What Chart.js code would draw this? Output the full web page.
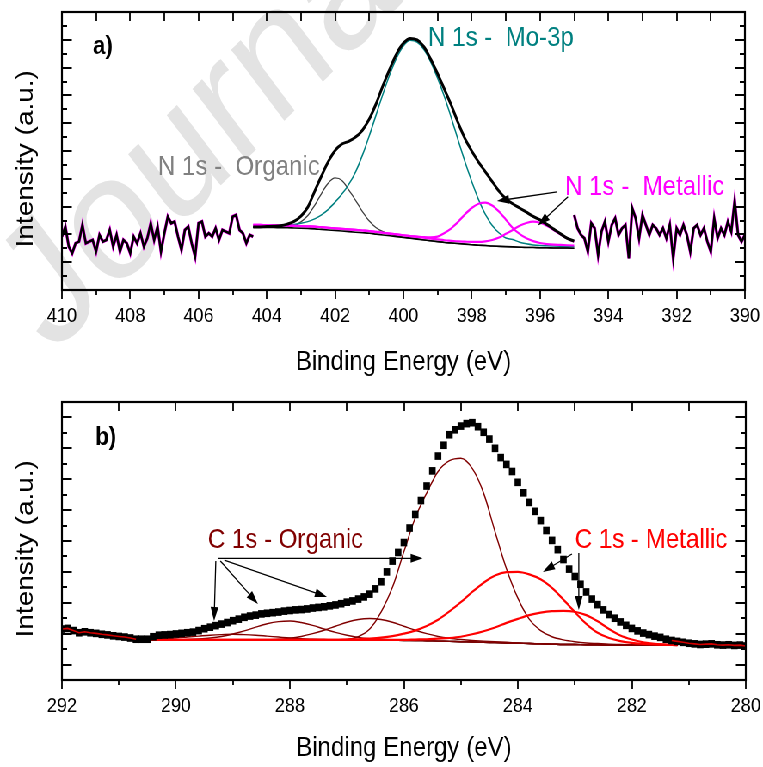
<!DOCTYPE html>
<html>
<head>
<meta charset="utf-8">
<title>XPS N 1s / C 1s</title>
<script src="https://cdn.jsdelivr.net/npm/chart.js@4.4.1/dist/chart.umd.min.js"></script>
<style>
  html, body { margin: 0; padding: 0; background: #fff; overflow: hidden; }
  /* the original figure is squeezed horizontally, so draw wide and squeeze */
  #figure { width: 887px; transform: scaleX(0.8602); transform-origin: 0 0; }
  canvas { display: block; }
</style>
</head>
<body>
<div id="figure">
  <canvas id="panelA" width="887" height="383"></canvas>
  <canvas id="panelB" width="887" height="384"></canvas>
</div>
<script>
// ---------- panel a) N 1s ----------
const energyMajorA = [410, 408, 406, 404, 402, 400, 398, 396, 394, 392, 390];
const energyMinorA = [409, 407, 405, 403, 401, 399, 397, 395, 393, 391];
const intensityMajorA = [1, 2, 3, 4, 5, 6, 7, 8, 9];
const intensityMinorA = [0.5, 1.5, 2.5, 3.5, 4.5, 5.5, 6.5, 7.5, 8.5, 9.5];

// raw spectrum outside the fitted window
const noiseLeftE = [410.0, 409.9, 409.8, 409.7, 409.6, 409.5, 409.4, 409.3, 409.2, 409.1,
  409.0, 408.9, 408.8, 408.7, 408.6, 408.5, 408.4, 408.3, 408.2, 408.1,
  408.0, 407.9, 407.8, 407.7, 407.6, 407.5, 407.4, 407.3, 407.2, 407.1,
  407.0, 406.9, 406.8, 406.7, 406.6, 406.5, 406.4, 406.3, 406.2, 406.1,
  406.0, 405.9, 405.8, 405.7, 405.6, 405.5, 405.4, 405.3, 405.2, 405.1,
  405.0, 404.9, 404.8, 404.7, 404.6, 404.5, 404.4];
const noiseLeftI = [1.92, 2.28, 1.56, 1.32, 1.68, 1.74, 2.34, 1.68, 1.74, 1.80,
  1.38, 1.98, 1.74, 1.80, 2.16, 1.56, 1.98, 1.38, 1.80, 1.68,
  1.32, 1.92, 1.68, 2.04, 1.56, 1.86, 2.40, 1.80, 2.28, 1.38,
  2.04, 2.64, 2.40, 2.46, 1.92, 1.44, 2.16, 2.28, 1.68, 1.20,
  2.40, 2.46, 1.92, 2.04, 1.92, 2.22, 1.80, 2.16, 2.10, 2.04,
  2.64, 2.70, 2.16, 2.04, 1.68, 1.98, 1.92];
const noiseRightE = [395.0, 394.9, 394.8, 394.7, 394.6, 394.5, 394.4, 394.3, 394.2, 394.1,
  394.0, 393.9, 393.8, 393.7, 393.6, 393.5, 393.4, 393.3, 393.2, 393.1,
  393.0, 392.9, 392.8, 392.7, 392.6, 392.5, 392.4, 392.3, 392.2, 392.1,
  392.0, 391.9, 391.8, 391.7, 391.6, 391.5, 391.4, 391.3, 391.2, 391.1,
  391.0, 390.9, 390.8, 390.7, 390.6, 390.5, 390.4, 390.3, 390.2, 390.1, 390.0];
const noiseRightI = [2.70, 2.22, 1.98, 1.86, 1.38, 2.40, 2.22, 1.26, 2.10, 2.46,
  1.74, 2.34, 2.58, 1.98, 2.22, 2.34, 1.14, 2.94, 2.58, 1.86,
  2.70, 2.34, 1.98, 2.34, 2.22, 1.98, 2.22, 1.86, 2.34, 1.14,
  2.22, 1.98, 2.34, 1.98, 1.38, 2.22, 2.34, 1.98, 2.22, 1.74,
  1.38, 2.58, 1.86, 2.22, 1.98, 2.46, 2.10, 3.20, 1.98, 1.74, 1.98];

// fitted window
const fitEA = [404.4, 404.2, 404.0, 403.8, 403.6, 403.4, 403.2, 403.0, 402.8, 402.6,
  402.4, 402.2, 402.0, 401.8, 401.6, 401.4, 401.2, 401.0, 400.8, 400.6,
  400.4, 400.2, 400.0, 399.8, 399.6, 399.4, 399.2, 399.0, 398.8, 398.6,
  398.4, 398.2, 398.0, 397.8, 397.6, 397.4, 397.2, 397.0, 396.8, 396.6,
  396.4, 396.2, 396.0, 395.8, 395.6, 395.4, 395.2, 395.0];
const envelopeA = [2.27, 2.27, 2.28, 2.29, 2.31, 2.37, 2.47, 2.66, 2.98, 3.55,
  4.10, 4.62, 5.02, 5.25, 5.35, 5.50, 5.75, 6.15, 6.70, 7.35,
  7.95, 8.50, 8.88, 9.05, 9.00, 8.75, 8.30, 7.78, 7.22, 6.65,
  6.02, 5.45, 5.00, 4.60, 4.25, 3.90, 3.55, 3.28, 3.10, 2.95,
  2.80, 2.65, 2.52, 2.36, 2.19, 2.02, 1.86, 1.76];
const backgroundA = [2.26, 2.26, 2.25, 2.25, 2.24, 2.24, 2.23, 2.22, 2.21, 2.20,
  2.18, 2.16, 2.14, 2.12, 2.10, 2.08, 2.06, 2.04, 2.01, 1.98,
  1.95, 1.92, 1.89, 1.86, 1.83, 1.80, 1.77, 1.74, 1.71, 1.69,
  1.67, 1.65, 1.63, 1.61, 1.60, 1.58, 1.57, 1.56, 1.55, 1.54,
  1.53, 1.53, 1.52, 1.52, 1.51, 1.51, 1.51, 1.50];
const moNA = [2.27, 2.27, 2.28, 2.29, 2.31, 2.33, 2.36, 2.40, 2.46, 2.56,
  2.70, 2.90, 3.16, 3.45, 3.80, 4.25, 4.85, 5.55, 6.30, 7.05,
  7.75, 8.35, 8.78, 8.98, 8.92, 8.65, 8.20, 7.62, 6.95, 6.20,
  5.40, 4.62, 3.90, 3.25, 2.72, 2.32, 2.05, 1.87, 1.82, 1.72,
  1.66, 1.62, 1.60, 1.59, 1.58, 1.57, 1.56, 1.56];
const organicNA = [2.26, 2.26, 2.25, 2.25, 2.25, 2.27, 2.32, 2.45, 2.68, 3.04,
  3.47, 3.85, 4.03, 3.94, 3.60, 3.22, 2.82, 2.48, 2.24, 2.10,
  2.01, 1.95, 1.90, 1.87, 1.84, 1.80, 1.77, 1.74, 1.71, 1.69,
  1.67, 1.65, 1.63, 1.61, 1.60, 1.58, 1.57, 1.56, 1.55, 1.54,
  1.53, 1.53, 1.52, 1.52, 1.51, 1.51, 1.51, 1.50];
const metallic1A = [2.34, 2.34, 2.33, 2.33, 2.32, 2.32, 2.31, 2.30, 2.29, 2.28,
  2.26, 2.24, 2.22, 2.20, 2.18, 2.16, 2.14, 2.12, 2.09, 2.06,
  2.03, 2.00, 1.97, 1.94, 1.92, 1.90, 1.89, 1.92, 2.05, 2.22,
  2.45, 2.72, 2.95, 3.10, 3.14, 3.04, 2.82, 2.53, 2.23, 2.02,
  1.86, 1.76, 1.69, 1.65, 1.63, 1.62, 1.61, 1.60];
const metallic2A = [2.34, 2.34, 2.33, 2.33, 2.32, 2.32, 2.31, 2.30, 2.29, 2.28,
  2.26, 2.24, 2.22, 2.20, 2.18, 2.16, 2.14, 2.12, 2.09, 2.06,
  2.03, 2.00, 1.97, 1.94, 1.91, 1.88, 1.85, 1.82, 1.79, 1.77,
  1.75, 1.74, 1.73, 1.73, 1.75, 1.80, 1.89, 2.02, 2.16, 2.31,
  2.41, 2.46, 2.42, 2.31, 2.16, 2.00, 1.85, 1.74];

// ---------- panel b) C 1s ----------
const energyMajorB = [292, 290, 288, 286, 284, 282, 280];
const energyMinorB = [291, 289, 287, 285, 283, 281];
const intensityMajorB = [0, 1, 2, 3, 4, 5, 6, 7, 8];
const intensityMinorB = [0.5, 1.5, 2.5, 3.5, 4.5, 5.5, 6.5, 7.5];

const dataEB = [292.0, 291.9, 291.8, 291.7, 291.6, 291.5, 291.4, 291.3, 291.2, 291.1,
  291.0, 290.9, 290.8, 290.7, 290.6, 290.5, 290.4, 290.3, 290.2, 290.1,
  290.0, 289.9, 289.8, 289.7, 289.6, 289.5, 289.4, 289.3, 289.2, 289.1,
  289.0, 288.9, 288.8, 288.7, 288.6, 288.5, 288.4, 288.3, 288.2, 288.1,
  288.0, 287.9, 287.8, 287.7, 287.6, 287.5, 287.4, 287.3, 287.2, 287.1,
  287.0, 286.9, 286.8, 286.7, 286.6, 286.5, 286.4, 286.3, 286.2, 286.1,
  286.0, 285.9, 285.8, 285.7, 285.6, 285.5, 285.4, 285.3, 285.2, 285.1,
  285.0, 284.9, 284.8, 284.7, 284.6, 284.5, 284.4, 284.3, 284.2, 284.1,
  284.0, 283.9, 283.8, 283.7, 283.6, 283.5, 283.4, 283.3, 283.2, 283.1,
  283.0, 282.9, 282.8, 282.7, 282.6, 282.5, 282.4, 282.3, 282.2, 282.1,
  282.0, 281.9, 281.8, 281.7, 281.6, 281.5, 281.4, 281.3, 281.2, 281.1,
  281.0, 280.9, 280.8, 280.7, 280.6, 280.5, 280.4, 280.3, 280.2, 280.1, 280.0];
const dataIB = [1.15, 1.17, 1.10, 1.03, 1.06, 1.03, 1.01, 0.98, 0.96, 0.93,
  0.91, 0.89, 0.86, 0.82, 0.82, 0.82, 0.90, 0.95, 0.96, 0.97,
  0.99, 1.01, 1.03, 1.05, 1.10, 1.16, 1.21, 1.26, 1.31, 1.36,
  1.42, 1.47, 1.53, 1.57, 1.60, 1.64, 1.66, 1.68, 1.70, 1.73,
  1.75, 1.77, 1.78, 1.80, 1.83, 1.85, 1.87, 1.90, 1.93, 1.97,
  2.02, 2.06, 2.12, 2.19, 2.28, 2.45, 2.68, 3.00, 3.35, 3.63,
  3.95, 4.42, 4.86, 5.31, 5.78, 6.27, 6.75, 7.10, 7.44, 7.60,
  7.72, 7.80, 7.83, 7.70, 7.52, 7.30, 7.00, 6.70, 6.48, 6.25,
  5.90, 5.56, 5.25, 4.96, 4.66, 4.34, 4.02, 3.72, 3.40, 3.09,
  2.85, 2.60, 2.35, 2.12, 1.94, 1.77, 1.62, 1.50, 1.38, 1.27,
  1.17, 1.09, 1.02, 0.97, 0.92, 0.88, 0.82, 0.78, 0.75, 0.72,
  0.69, 0.67, 0.65, 0.66, 0.67, 0.64, 0.63, 0.64, 0.62, 0.63, 0.60];

const fitEB = [290.8, 290.6, 290.4, 290.2, 290.0, 289.8, 289.6, 289.4, 289.2, 289.0,
  288.8, 288.6, 288.4, 288.2, 288.0, 287.8, 287.6, 287.4, 287.2, 287.0,
  286.8, 286.6, 286.4, 286.2, 286.0, 285.8, 285.6, 285.4, 285.2, 285.0,
  284.8, 284.6, 284.4, 284.2, 284.0, 283.8, 283.6, 283.4, 283.2, 283.0,
  282.8, 282.6, 282.4, 282.2, 282.0, 281.8, 281.6, 281.4, 281.2];
const backgroundB = [0.80, 0.80, 0.80, 0.80, 0.80, 0.80, 0.80, 0.80, 0.80, 0.80,
  0.80, 0.80, 0.80, 0.80, 0.80, 0.80, 0.80, 0.80, 0.80, 0.80,
  0.80, 0.80, 0.79, 0.79, 0.78, 0.78, 0.77, 0.76, 0.75, 0.74,
  0.73, 0.72, 0.71, 0.70, 0.69, 0.68, 0.67, 0.66, 0.65, 0.65,
  0.64, 0.64, 0.63, 0.63, 0.63, 0.62, 0.62, 0.62, 0.62];
const organicMainB = [0.80, 0.80, 0.80, 0.80, 0.80, 0.80, 0.80, 0.80, 0.80, 0.80,
  0.80, 0.80, 0.80, 0.80, 0.80, 0.80, 0.80, 0.80, 0.80, 0.81,
  0.90, 1.15, 1.70, 2.50, 3.65, 4.75, 5.55, 6.25, 6.60, 6.68,
  6.35, 5.55, 4.30, 3.10, 2.15, 1.47, 1.10, 0.90, 0.80, 0.74,
  0.70, 0.68, 0.66, 0.65, 0.64, 0.63, 0.63, 0.62, 0.62];
const organic1B = [0.80, 0.80, 0.80, 0.80, 0.80, 0.81, 0.83, 0.86, 0.91, 0.99,
  1.09, 1.21, 1.32, 1.39, 1.41, 1.36, 1.27, 1.15, 1.04, 0.95,
  0.88, 0.84, 0.82, 0.80, 0.79, 0.78, 0.77, 0.76, 0.75, 0.74,
  0.73, 0.72, 0.71, 0.70, 0.69, 0.68, 0.67, 0.66, 0.65, 0.65,
  0.64, 0.64, 0.63, 0.63, 0.63, 0.62, 0.62, 0.62, 0.62];
const organic2B = [0.80, 0.80, 0.80, 0.80, 0.80, 0.80, 0.80, 0.80, 0.80, 0.80,
  0.80, 0.80, 0.80, 0.82, 0.85, 0.91, 1.00, 1.11, 1.24, 1.37,
  1.46, 1.49, 1.46, 1.37, 1.24, 1.11, 1.00, 0.91, 0.85, 0.81,
  0.78, 0.76, 0.74, 0.72, 0.70, 0.68, 0.67, 0.66, 0.65, 0.65,
  0.64, 0.64, 0.63, 0.63, 0.63, 0.62, 0.62, 0.62, 0.62];
const organic3B = [0.81, 0.82, 0.83, 0.84, 0.86, 0.89, 0.92, 0.95, 0.97, 0.98,
  0.97, 0.95, 0.92, 0.89, 0.86, 0.84, 0.82, 0.81, 0.80, 0.80,
  0.80, 0.80, 0.79, 0.79, 0.78, 0.78, 0.77, 0.76, 0.75, 0.74,
  0.73, 0.72, 0.71, 0.70, 0.69, 0.68, 0.67, 0.66, 0.65, 0.65,
  0.64, 0.64, 0.63, 0.63, 0.63, 0.62, 0.62, 0.62, 0.62];
const metallic1B = [0.80, 0.80, 0.80, 0.80, 0.80, 0.80, 0.80, 0.80, 0.80, 0.80,
  0.80, 0.80, 0.80, 0.80, 0.80, 0.80, 0.80, 0.80, 0.80, 0.81,
  0.82, 0.84, 0.87, 0.92, 1.00, 1.10, 1.25, 1.45, 1.72, 2.02,
  2.35, 2.65, 2.88, 2.99, 3.00, 2.92, 2.76, 2.48, 2.10, 1.70,
  1.32, 1.03, 0.86, 0.76, 0.70, 0.67, 0.65, 0.64, 0.63];
const metallic2B = [0.80, 0.80, 0.80, 0.80, 0.80, 0.80, 0.80, 0.80, 0.80, 0.80,
  0.80, 0.80, 0.80, 0.80, 0.80, 0.80, 0.80, 0.80, 0.80, 0.80,
  0.80, 0.80, 0.80, 0.80, 0.80, 0.81, 0.82, 0.84, 0.86, 0.90,
  0.98, 1.08, 1.20, 1.35, 1.48, 1.60, 1.68, 1.73, 1.74, 1.71,
  1.60, 1.40, 1.15, 0.94, 0.81, 0.72, 0.67, 0.65, 0.63];

const FONT = "'Liberation Sans', Arial, Helvetica, sans-serif";

function points(energies, values) {
  return energies.map((e, i) => ({x: e, y: values[i]}));
}

function curve(energies, values, color, width, smooth) {
  return {
    data: points(energies, values),
    showLine: true,
    borderColor: color,
    borderWidth: width,
    pointRadius: 0,
    tension: smooth ? 0.4 : 0,
    cubicInterpolationMode: smooth ? 'monotone' : 'default'
  };
}

function drawArrow(ctx, from, to) {
  const [x1, y1] = from, [x2, y2] = to;
  const a = Math.atan2(y2 - y1, x2 - x1);
  const len = 14, half = 4.5;
  const c = Math.cos(a), s = Math.sin(a);
  ctx.beginPath();
  ctx.moveTo(x1, y1);
  ctx.lineTo(x2 - c * len * 0.7, y2 - s * len * 0.7);
  ctx.stroke();
  ctx.beginPath();
  ctx.moveTo(x2, y2);
  ctx.lineTo(x2 - c * len + s * half, y2 - s * len - c * half);
  ctx.lineTo(x2 - c * len - s * half, y2 - s * len + c * half);
  ctx.closePath();
  ctx.fill();
}

// frame, ticks, labels, arrows and the watermark for one panel
function decor(cfg) {
  return {
    id: 'decor',
    beforeDraw(chart) {
      const w = cfg.watermark;
      if (!w) return;
      const ctx = chart.ctx;
      ctx.save();
      ctx.translate(w.x, w.y);
      ctx.rotate(w.angle * Math.PI / 180);
      ctx.font = w.size + 'px ' + FONT;
      ctx.fillStyle = w.color;
      ctx.fillText(w.text, 0, 0);
      ctx.restore();
    },
    afterDatasetsDraw(chart) {
      const {ctx, scales: {x, y}} = chart;
      const px = p => [x.getPixelForValue(p[0]), y.getPixelForValue(p[1])];
      ctx.save();
      ctx.strokeStyle = '#000';
      ctx.fillStyle = '#000';
      ctx.lineWidth = 1.3;
      cfg.arrows.forEach(ar => drawArrow(ctx, px(ar[0]), px(ar[1])));
      cfg.labels.forEach(l => {
        const [lx, ly] = px(l.at);
        ctx.font = (l.bold ? 'bold ' : '') + l.size + 'px ' + FONT;
        ctx.fillStyle = l.color;
        ctx.textAlign = l.align || 'left';
        ctx.textBaseline = 'middle';
        ctx.fillText(l.text, lx, ly);
      });
      ctx.restore();
    },
    afterDraw(chart) {
      const {ctx, chartArea: a, scales: {x, y}} = chart;
      ctx.save();
      ctx.strokeStyle = '#000';
      ctx.lineWidth = 1.8;
      ctx.beginPath();
      cfg.xMajor.concat(cfg.xMinor).forEach(v => {
        const p = Math.round(x.getPixelForValue(v));
        const down = cfg.xMajor.includes(v) ? 9 : 5;
        ctx.moveTo(p, a.bottom); ctx.lineTo(p, a.bottom + down);
        ctx.moveTo(p, a.top); ctx.lineTo(p, a.top + 9);
      });
      cfg.yMajor.concat(cfg.yMinor).forEach(v => {
        const p = Math.round(y.getPixelForValue(v));
        const len = cfg.yMajor.includes(v) ? 11.5 : 6;
        ctx.moveTo(a.left, p); ctx.lineTo(a.left + len, p);
        ctx.moveTo(a.right, p); ctx.lineTo(a.right - len, p);
      });
      ctx.stroke();
      ctx.lineWidth = 2.2;
      ctx.strokeRect(a.left, a.top, a.right - a.left, a.bottom - a.top);
      ctx.restore();
    }
  };
}

function scalesFor(xMin, xMax, yMin, yMax, xMajor, axisHeight, titlePad) {
  return {
    x: {
      type: 'linear', reverse: true, min: xMin, max: xMax,
      afterBuildTicks: s => { s.ticks = xMajor.map(v => ({value: v})); },
      afterFit: s => { s.height = axisHeight; },
      // invisible tick marks only push the labels down; the real ticks come from the plugin
      grid: {display: true, drawOnChartArea: false, drawTicks: true, tickLength: 12,
        color: 'rgba(0,0,0,0)', tickColor: 'rgba(0,0,0,0)'},
      border: {display: false},
      ticks: {color: '#000', font: {family: FONT, size: 21}, padding: 2, maxRotation: 0, autoSkip: false},
      title: {display: true, text: 'Binding Energy (eV)', color: '#000',
        font: {family: FONT, size: 28}, padding: {top: 0, bottom: titlePad}}
    },
    y: {
      type: 'linear', min: yMin, max: yMax,
      afterFit: s => { s.width = 72; },
      grid: {display: false, drawTicks: false},
      border: {display: false},
      ticks: {display: false},
      title: {display: true, text: 'Intensity (a.u.)  ', color: '#000',
        font: {family: FONT, size: 28}, padding: {top: 13, bottom: 0}}
    }
  };
}

const common = {
  responsive: false,
  animation: false,
  devicePixelRatio: 1,
  events: [],
  plugins: {legend: {display: false}, tooltip: {enabled: false}}
};

new Chart(document.getElementById('panelA'), {
  type: 'scatter',
  data: {
    datasets: [
      curve(fitEA, envelopeA, '#000000', 3, true),
      curve(noiseLeftE, noiseLeftI, '#000000', 2.6, false),
      curve(noiseRightE, noiseRightI, '#000000', 2.6, false),
      curve(fitEA, backgroundA, '#000000', 1.6, true),
      curve(fitEA, metallic1A, '#ff00ff', 2.2, true),
      curve(fitEA, metallic2A, '#ff00ff', 2.2, true),
      curve(fitEA, moNA, '#008080', 1.5, true),
      curve(fitEA, organicNA, '#404040', 1.3, true),
      curve(noiseLeftE, noiseLeftI, '#ff00ff', 3.4, false),
      curve(noiseRightE, noiseRightI, '#ff00ff', 3.4, false)
    ]
  },
  options: Object.assign({}, common, {
    layout: {padding: {left: 0, right: 21, top: 12, bottom: 0}},
    scales: scalesFor(390, 410, 0, 10, energyMajorA, 93, 4)
  }),
  plugins: [decor({
    xMajor: energyMajorA, xMinor: energyMinorA,
    yMajor: intensityMajorA, yMinor: intensityMinorA,
    watermark: {text: 'Journal', x: 60, y: 356, angle: -41, size: 178, color: '#e3e3e3'},
    labels: [
      {text: 'a)', at: [408.8, 8.74], color: '#000', size: 26, bold: true, align: 'center'},
      {text: 'N 1s -  Mo-3p', at: [399.28, 9.06], color: '#008080', size: 28},
      {text: 'N 1s -  Organic', at: [407.19, 4.42], color: '#808080', size: 28},
      {text: 'N 1s -  Metallic', at: [395.27, 3.70], color: '#ff00ff', size: 28}
    ],
    arrows: [
      [[395.5, 3.53], [397.26, 3.20]],
      [[395.18, 3.35], [396.06, 2.32]]
    ]
  })]
});

new Chart(document.getElementById('panelB'), {
  type: 'scatter',
  data: {
    datasets: [
      {
        data: points(dataEB, dataIB), showLine: true, pointRadius: 0, borderWidth: 1.6,
        segment: {borderColor: c => (c.p1.parsed.x >= 290.7 || c.p0.parsed.x <= 281.3) ? '#d00000' : 'rgba(0,0,0,0)'}
      },
      {
        data: points(dataEB, dataIB), showLine: false, pointStyle: 'rect', pointRadius: 5.4,
        backgroundColor: '#000', borderWidth: 0
      },
      curve(fitEB, metallic1B, '#ff0000', 2.2, true),
      curve(fitEB, metallic2B, '#ff0000', 2.2, true),
      curve(fitEB, organicMainB, '#800000', 1.4, true),
      curve(fitEB, organic1B, '#800000', 1.4, true),
      curve(fitEB, organic2B, '#800000', 1.4, true),
      curve(fitEB, organic3B, '#800000', 1.4, true),
      curve(fitEB, backgroundB, '#000000', 1.4, true)
    ]
  },
  options: Object.assign({}, common, {
    layout: {padding: {left: 0, right: 20, top: 19, bottom: 0}},
    scales: scalesFor(280, 292, -0.5, 8.5, energyMajorB, 87, 2)
  }),
  plugins: [decor({
    xMajor: energyMajorB, xMinor: energyMinorB,
    yMajor: intensityMajorB, yMinor: intensityMinorB,
    labels: [
      {text: 'b)', at: [291.23, 7.33], color: '#000', size: 26, bold: true, align: 'center'},
      {text: 'C 1s - Organic', at: [289.44, 4.03], color: '#800000', size: 28},
      {text: 'C 1s - Metallic', at: [283.0, 4.03], color: '#ff0000', size: 28}
    ],
    arrows: [
      [[289.26, 3.44], [285.67, 3.44]],
      [[289.30, 3.35], [289.33, 1.41]],
      [[289.22, 3.35], [288.56, 1.96]],
      [[289.15, 3.38], [287.35, 2.19]],
      [[283.05, 3.58], [283.56, 3.00]],
      [[282.93, 3.61], [282.93, 1.77]]
    ]
  })]
});
</script>
</body>
</html>
